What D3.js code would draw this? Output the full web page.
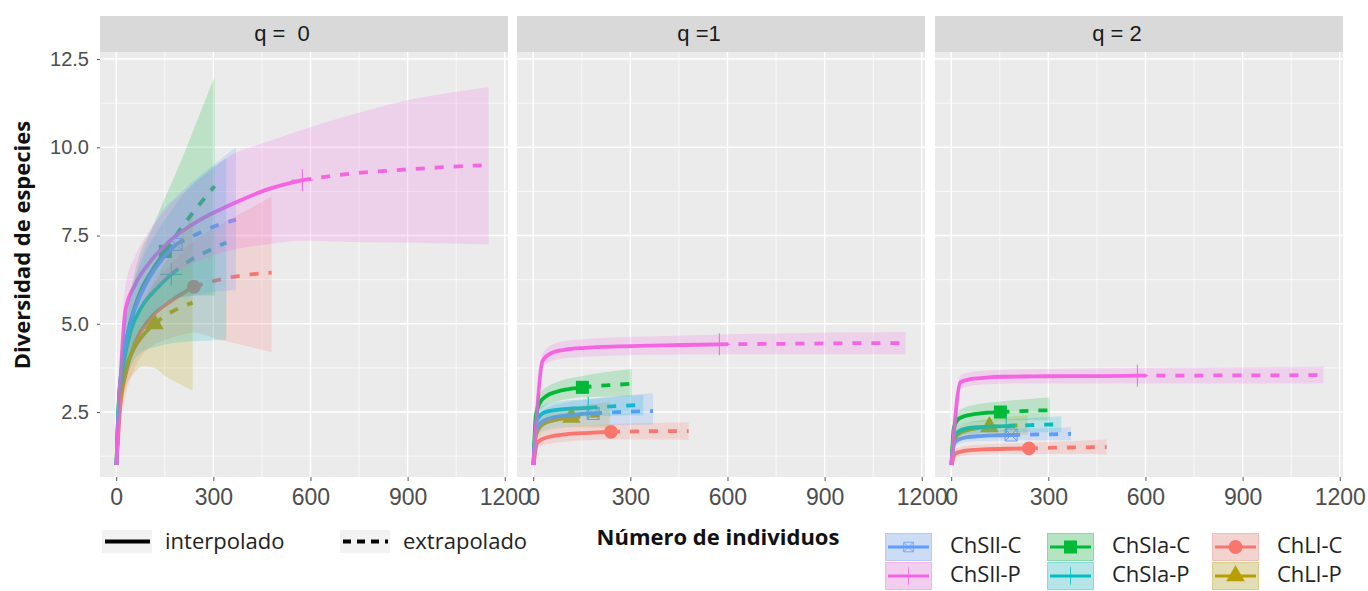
<!DOCTYPE html>
<html>
<head>
<meta charset="utf-8">
<script src="https://cdn.jsdelivr.net/npm/d3@7/dist/d3.min.js"></script>
<style>
  body { margin: 0; background: #fff; }
  text { font-family: "Liberation Sans", Arial, sans-serif; }
  .tick-label { fill: #4d4d4d; }
  .legend-text { font-family: "Open Sans", Lato, sans-serif; fill: #222; }
  .axis-title { font-family: "Open Sans", Lato, sans-serif; font-weight: bold; fill: #111; }
</style>
</head>
<body>
<svg id="chart"></svg>
<script>
// ======================================
// Data
// ======================================
var groupNames = ["ChLl-C", "ChLl-P", "ChSla-C", "ChSla-P", "ChSll-C", "ChSll-P"];
var groupColors = ["#F8766D", "#B79F00", "#00BA38", "#00BFC4", "#619CFF", "#F564E3"];
var groupShapes = ["circle", "triangle", "square", "plus", "boxx", "plus"];
var refSize = [240, 118, 152, 170, 185, 575];

var knots = [
  [1, 12, 30, 60, 100, 170, 240, 320, 400, 480],
  [1, 6, 15, 30, 55, 85, 118, 155, 195, 236],
  [1, 8, 20, 40, 70, 110, 152, 200, 250, 304],
  [1, 9, 23, 45, 80, 125, 170, 220, 280, 340],
  [1, 10, 25, 50, 90, 135, 185, 240, 300, 370],
  [1, 29, 58, 100, 160, 260, 360, 465, 575, 720, 860, 1000, 1150]
];

// q = 0
var q0Est = [
  [1, 2.6, 3.6, 4.5, 5.1, 5.65, 6.05, 6.25, 6.38, 6.45],
  [1, 2.3, 3.0, 3.7, 4.3, 4.7, 5.0, 5.25, 5.45, 5.6],
  [1, 2.8, 3.9, 4.9, 5.8, 6.5, 7.05, 7.7, 8.3, 8.9],
  [1, 2.9, 3.9, 4.8, 5.5, 6.0, 6.4, 6.75, 7.05, 7.3],
  [1, 3.0, 4.2, 5.2, 6.1, 6.75, 7.25, 7.5, 7.75, 7.95],
  [1, 5.4, 6.1, 6.7, 7.3, 7.95, 8.4, 8.8, 9.07, 9.25, 9.35, 9.43, 9.5]
];
var q0Lo = [
  [1, 2.2, 3.0, 3.8, 4.3, 4.6, 4.75, 4.55, 4.38, 4.2],
  [1, 2.0, 2.6, 3.2, 3.6, 3.8, 3.75, 3.5, 3.3, 3.1],
  [1, 2.4, 3.3, 4.1, 4.7, 5.2, 5.6, 5.75, 5.8, 5.8],
  [1, 2.5, 3.2, 3.8, 4.2, 4.35, 4.45, 4.5, 4.52, 4.55],
  [1, 2.6, 3.6, 4.4, 5.0, 5.4, 5.7, 5.8, 5.9, 5.95],
  [1, 4.7, 5.3, 5.8, 6.3, 6.8, 7.1, 7.25, 7.35, 7.32, 7.3, 7.28, 7.25]
];
var q0Hi = [
  [1, 3.0, 4.2, 5.2, 5.9, 6.7, 7.35, 7.8, 8.2, 8.6],
  [1, 2.6, 3.4, 4.2, 5.0, 5.6, 6.2, 6.8, 7.4, 8.1],
  [1, 3.2, 4.5, 5.7, 6.9, 7.7, 8.6, 9.6, 10.75, 12.0],
  [1, 3.3, 4.6, 5.8, 6.8, 7.6, 8.2, 8.8, 9.3, 9.7],
  [1, 3.4, 4.8, 6.0, 7.2, 8.1, 8.6, 9.05, 9.5, 10.0],
  [1, 6.1, 6.9, 7.6, 8.3, 9.1, 9.8, 10.15, 10.5, 10.9, 11.25, 11.5, 11.7]
];

// q = 1
var q1Est = [
  [1, 1.62, 1.74, 1.82, 1.87, 1.91, 1.94, 1.95, 1.96, 1.96],
  [1, 1.75, 2.0, 2.15, 2.25, 2.31, 2.35, 2.38, 2.4, 2.42],
  [1, 2.4, 2.75, 2.95, 3.07, 3.15, 3.2, 3.24, 3.27, 3.3],
  [1, 2.2, 2.42, 2.52, 2.57, 2.6, 2.62, 2.65, 2.68, 2.7],
  [1, 2.0, 2.2, 2.32, 2.39, 2.43, 2.46, 2.49, 2.51, 2.53],
  [1, 3.95, 4.18, 4.27, 4.32, 4.36, 4.38, 4.4, 4.42, 4.43, 4.44, 4.45, 4.45]
];
var q1Lo = [
  [1, 1.45, 1.55, 1.62, 1.66, 1.7, 1.72, 1.72, 1.72, 1.71],
  [1, 1.55, 1.78, 1.92, 2.0, 2.05, 2.08, 2.07, 2.06, 2.05],
  [1, 2.15, 2.5, 2.7, 2.8, 2.88, 2.92, 2.93, 2.94, 2.95],
  [1, 2.0, 2.2, 2.3, 2.34, 2.37, 2.38, 2.39, 2.4, 2.4],
  [1, 1.78, 1.94, 2.02, 2.07, 2.1, 2.12, 2.13, 2.14, 2.15],
  [1, 3.75, 3.95, 4.03, 4.07, 4.1, 4.12, 4.13, 4.14, 4.14, 4.14, 4.14, 4.14]
];
var q1Hi = [
  [1, 1.8, 1.93, 2.02, 2.08, 2.12, 2.16, 2.18, 2.2, 2.21],
  [1, 1.95, 2.22, 2.38, 2.5, 2.57, 2.62, 2.69, 2.74, 2.79],
  [1, 2.65, 3.0, 3.2, 3.34, 3.45, 3.52, 3.6, 3.66, 3.72],
  [1, 2.4, 2.64, 2.74, 2.8, 2.84, 2.87, 2.91, 2.95, 2.99],
  [1, 2.25, 2.5, 2.65, 2.75, 2.82, 2.87, 2.93, 2.98, 3.03],
  [1, 4.15, 4.41, 4.51, 4.57, 4.62, 4.64, 4.67, 4.7, 4.72, 4.74, 4.76, 4.77]
];

// q = 2
var q2Est = [
  [1, 1.32, 1.38, 1.42, 1.44, 1.46, 1.47, 1.49, 1.5, 1.51],
  [1, 1.6, 1.8, 1.92, 2.0, 2.05, 2.08, 2.1, 2.12, 2.13],
  [1, 2.05, 2.28, 2.38, 2.44, 2.48, 2.5, 2.52, 2.54, 2.55],
  [1, 1.8, 1.95, 2.03, 2.07, 2.09, 2.1, 2.12, 2.14, 2.15],
  [1, 1.62, 1.73, 1.79, 1.82, 1.84, 1.85, 1.86, 1.87, 1.88],
  [1, 3.35, 3.43, 3.47, 3.5, 3.51, 3.52, 3.52, 3.53, 3.53, 3.54, 3.54, 3.55]
];
var q2Lo = [
  [1, 1.2, 1.25, 1.28, 1.3, 1.31, 1.31, 1.31, 1.31, 1.3],
  [1, 1.45, 1.62, 1.73, 1.8, 1.84, 1.86, 1.86, 1.86, 1.86],
  [1, 1.85, 2.08, 2.17, 2.22, 2.25, 2.27, 2.27, 2.27, 2.27],
  [1, 1.65, 1.8, 1.87, 1.9, 1.92, 1.93, 1.93, 1.93, 1.93],
  [1, 1.5, 1.6, 1.65, 1.68, 1.69, 1.7, 1.7, 1.7, 1.7],
  [1, 3.15, 3.24, 3.28, 3.3, 3.31, 3.31, 3.31, 3.31, 3.31, 3.31, 3.31, 3.31]
];
var q2Hi = [
  [1, 1.44, 1.51, 1.56, 1.58, 1.61, 1.63, 1.66, 1.69, 1.72],
  [1, 1.75, 1.98, 2.11, 2.2, 2.26, 2.3, 2.34, 2.38, 2.4],
  [1, 2.25, 2.5, 2.62, 2.7, 2.76, 2.8, 2.84, 2.88, 2.91],
  [1, 1.95, 2.12, 2.2, 2.25, 2.27, 2.29, 2.32, 2.35, 2.38],
  [1, 1.76, 1.88, 1.95, 1.99, 2.01, 2.02, 2.04, 2.05, 2.07],
  [1, 3.55, 3.63, 3.67, 3.7, 3.72, 3.73, 3.74, 3.75, 3.76, 3.77, 3.78, 3.79]
];

var panelLabels = ["q =  0", "q =1", "q = 2"];
var xTicks = [0, 300, 600, 900, 1200];
var xMinor = [150, 450, 750, 1050];
var yTicks = [2.5, 5.0, 7.5, 10.0, 12.5];
var yMinor = [1.25, 3.75, 6.25, 8.75, 11.25];

// legend order as shown (column-wise)
var legendOrder = [4, 5, 2, 3, 0, 1];

// ======================================
// Layout
// ======================================
var svgWidth = 1368, svgHeight = 591;
var panelLeft = [100, 517, 935];
var panelWidth = 408;
var panelTop = 52, panelBottom = 477;
var stripTop = 16;
var panelHeight = panelBottom - panelTop;

var svg = d3.select("#chart")
  .attr("width", svgWidth)
  .attr("height", svgHeight);

svg.append("rect").attr("width", svgWidth).attr("height", svgHeight).attr("fill", "#fff");

var xScale = d3.scaleLinear().domain([-50, 1210]).range([0, panelWidth]);
var yScale = d3.scaleLinear().domain([0.66, 12.7]).range([panelHeight, 0]);

// marker paths
function shapePath(shape) {
  if (shape === "circle") return d3.symbol(d3.symbolCircle, 150)();
  if (shape === "square") return d3.symbol(d3.symbolSquare, 170)();
  if (shape === "triangle") return d3.symbol(d3.symbolTriangle, 150)();
  if (shape === "plus") return "M-11,0H11M0,-11V11";
  if (shape === "boxx") return "M-6,-6H6V6H-6Z M-6,-6L6,6M-6,6L6,-6";
  return "";
}
function isFilled(shape) {
  return shape === "circle" || shape === "square" || shape === "triangle";
}

var qEst = [q0Est, q1Est, q2Est];
var qLo = [q0Lo, q1Lo, q2Lo];
var qHi = [q0Hi, q1Hi, q2Hi];

var lineGen = d3.line()
  .x(d => xScale(d.m))
  .y(d => yScale(d.est))
  .curve(d3.curveMonotoneX);

var areaGen = d3.area()
  .x(d => xScale(d.m))
  .y0(d => yScale(d.lo))
  .y1(d => yScale(d.hi))
  .curve(d3.curveMonotoneX);

// ======================================
// Panels
// ======================================
panelLabels.forEach(function(label, p) {
  var g = svg.append("g").attr("transform", `translate(${panelLeft[p]}, ${panelTop})`);

  // strip
  svg.append("rect")
    .attr("x", panelLeft[p]).attr("y", stripTop)
    .attr("width", panelWidth).attr("height", panelTop - stripTop)
    .attr("fill", "#d9d9d9");
  svg.append("text")
    .attr("x", panelLeft[p] + panelWidth / 2 - 22)
    .attr("y", (stripTop + panelTop) / 2 + 1)
    .attr("text-anchor", "middle")
    .attr("dominant-baseline", "middle")
    .attr("font-size", 22)
    .attr("fill", "#1a1a1a")
    .style("white-space", "pre")
    .text(label);

  // background + grid
  g.append("rect").attr("width", panelWidth).attr("height", panelHeight).attr("fill", "#ebebeb");

  g.selectAll(".xminor").data(xMinor).enter().append("line")
    .attr("x1", d => xScale(d)).attr("x2", d => xScale(d))
    .attr("y1", 0).attr("y2", panelHeight)
    .attr("stroke", "#fff").attr("stroke-width", 0.7);
  g.selectAll(".yminor").data(yMinor).enter().append("line")
    .attr("y1", d => yScale(d)).attr("y2", d => yScale(d))
    .attr("x1", 0).attr("x2", panelWidth)
    .attr("stroke", "#fff").attr("stroke-width", 0.7);
  g.selectAll(".xmajor").data(xTicks).enter().append("line")
    .attr("x1", d => xScale(d)).attr("x2", d => xScale(d))
    .attr("y1", 0).attr("y2", panelHeight)
    .attr("stroke", "#fff").attr("stroke-width", 1.4);
  g.selectAll(".ymajor").data(yTicks).enter().append("line")
    .attr("y1", d => yScale(d)).attr("y2", d => yScale(d))
    .attr("x1", 0).attr("x2", panelWidth)
    .attr("stroke", "#fff").attr("stroke-width", 1.4);

  // x axis
  var xAxis = g.append("g")
    .attr("transform", `translate(0, ${panelHeight})`)
    .call(d3.axisBottom(xScale).tickValues(xTicks).tickSize(4).tickPadding(8).tickFormat(d3.format("d")));
  xAxis.select(".domain").remove();
  xAxis.selectAll("line").attr("stroke", "#555");
  xAxis.selectAll("text").attr("class", "tick-label").attr("font-size", 23)
    .attr("font-family", "'Liberation Sans', Arial, sans-serif");

  // y axis only on first panel
  if (p === 0) {
    var yAxis = g.append("g")
      .call(d3.axisLeft(yScale).tickValues(yTicks).tickSize(3).tickPadding(8).tickFormat(d3.format(".1f")));
    yAxis.select(".domain").remove();
    yAxis.selectAll("line").attr("stroke", "#555");
    yAxis.selectAll("text").attr("class", "tick-label").attr("font-size", 20)
      .attr("font-family", "'Liberation Sans', Arial, sans-serif");
  }

  // build series for this q
  var series = groupNames.map(function(name, gi) {
    var pts = knots[gi].map((m, i) => ({ m: m, est: qEst[p][gi][i], lo: qLo[p][gi][i], hi: qHi[p][gi][i] }));
    return {
      gi: gi,
      all: pts,
      interp: pts.filter(d => d.m <= refSize[gi]),
      extrap: pts.filter(d => d.m >= refSize[gi]),
      ref: pts.find(d => d.m === refSize[gi])
    };
  });

  // points (drawn first, as in the original)
  series.forEach(function(s) {
    var sh = groupShapes[s.gi];
    g.append("path")
      .attr("d", shapePath(sh))
      .attr("transform", `translate(${xScale(s.ref.m)}, ${yScale(s.ref.est)})`)
      .attr("fill", isFilled(sh) ? groupColors[s.gi] : "none")
      .attr("stroke", groupColors[s.gi])
      .attr("stroke-width", isFilled(sh) ? 0 : 1);
  });

  // lines
  series.forEach(function(s) {
    g.append("path")
      .attr("d", lineGen(s.interp))
      .attr("fill", "none")
      .attr("stroke", groupColors[s.gi])
      .attr("stroke-width", 3.8);
    g.append("path")
      .attr("d", lineGen(s.extrap))
      .attr("fill", "none")
      .attr("stroke", groupColors[s.gi])
      .attr("stroke-width", 3.8)
      .attr("stroke-dasharray", "9,10");
  });

  // ribbons
  series.forEach(function(s) {
    g.append("path")
      .attr("d", areaGen(s.all))
      .attr("fill", groupColors[s.gi])
      .attr("fill-opacity", 0.2);
  });
});

// ======================================
// Axis titles
// ======================================
svg.append("text")
  .attr("class", "axis-title")
  .attr("transform", "translate(30, 245) rotate(-90)")
  .attr("text-anchor", "middle")
  .attr("font-size", 22)
  .text("Diversidad de especies");

svg.append("text")
  .attr("class", "axis-title")
  .attr("x", 718).attr("y", 545)
  .attr("text-anchor", "middle")
  .attr("font-size", 22)
  .text("Número de individuos");

// ======================================
// Linetype legend
// ======================================
var ltyItems = [
  { label: "interpolado", x: 102, dash: null, tx: 165 },
  { label: "extrapolado", x: 340, dash: "8,6", tx: 403 }
];
ltyItems.forEach(function(it) {
  svg.append("rect").attr("x", it.x).attr("y", 530).attr("width", 50).attr("height", 23).attr("fill", "#f2f2f2");
  svg.append("line")
    .attr("x1", it.x + 3).attr("x2", it.x + 48)
    .attr("y1", 541.5).attr("y2", 541.5)
    .attr("stroke", "#000").attr("stroke-width", 4)
    .attr("stroke-dasharray", it.dash);
  svg.append("text")
    .attr("class", "legend-text")
    .attr("x", it.tx).attr("y", 549)
    .attr("font-size", 22)
    .text(it.label);
});

// ======================================
// Group legend (2 rows x 3 columns)
// ======================================
var colKeyX = [885, 1047, 1212];
var colTextX = [950, 1112, 1277];
var rowKeyY = [533, 562];
legendOrder.forEach(function(gi, k) {
  var col = Math.floor(k / 2), row = k % 2;
  var kx = colKeyX[col], ky = rowKeyY[row], kw = 47, kh = 28;
  var c = groupColors[gi];
  svg.append("rect").attr("x", kx).attr("y", ky).attr("width", kw).attr("height", kh).attr("fill", "#f2f2f2");
  svg.append("rect").attr("x", kx + 0.5).attr("y", ky + 0.5).attr("width", kw - 1).attr("height", kh - 1)
    .attr("fill", c).attr("fill-opacity", 0.25)
    .attr("stroke", c).attr("stroke-opacity", 0.35).attr("stroke-width", 1);
  svg.append("line")
    .attr("x1", kx + 3).attr("x2", kx + kw - 3)
    .attr("y1", ky + kh / 2).attr("y2", ky + kh / 2)
    .attr("stroke", c).attr("stroke-width", 3);
  var sh = groupShapes[gi];
  svg.append("path")
    .attr("d", shapePath(sh))
    .attr("transform", `translate(${kx + kw / 2}, ${ky + kh / 2}) scale(${isFilled(sh) ? 1 : 0.8})`)
    .attr("fill", isFilled(sh) ? c : "none")
    .attr("stroke", c)
    .attr("stroke-width", isFilled(sh) ? 0 : 1);
  svg.append("text")
    .attr("class", "legend-text")
    .attr("x", colTextX[col]).attr("y", ky + kh / 2)
    .attr("dominant-baseline", "middle")
    .attr("font-size", 22)
    .text(groupNames[gi]);
});
</script>
</body>
</html>
